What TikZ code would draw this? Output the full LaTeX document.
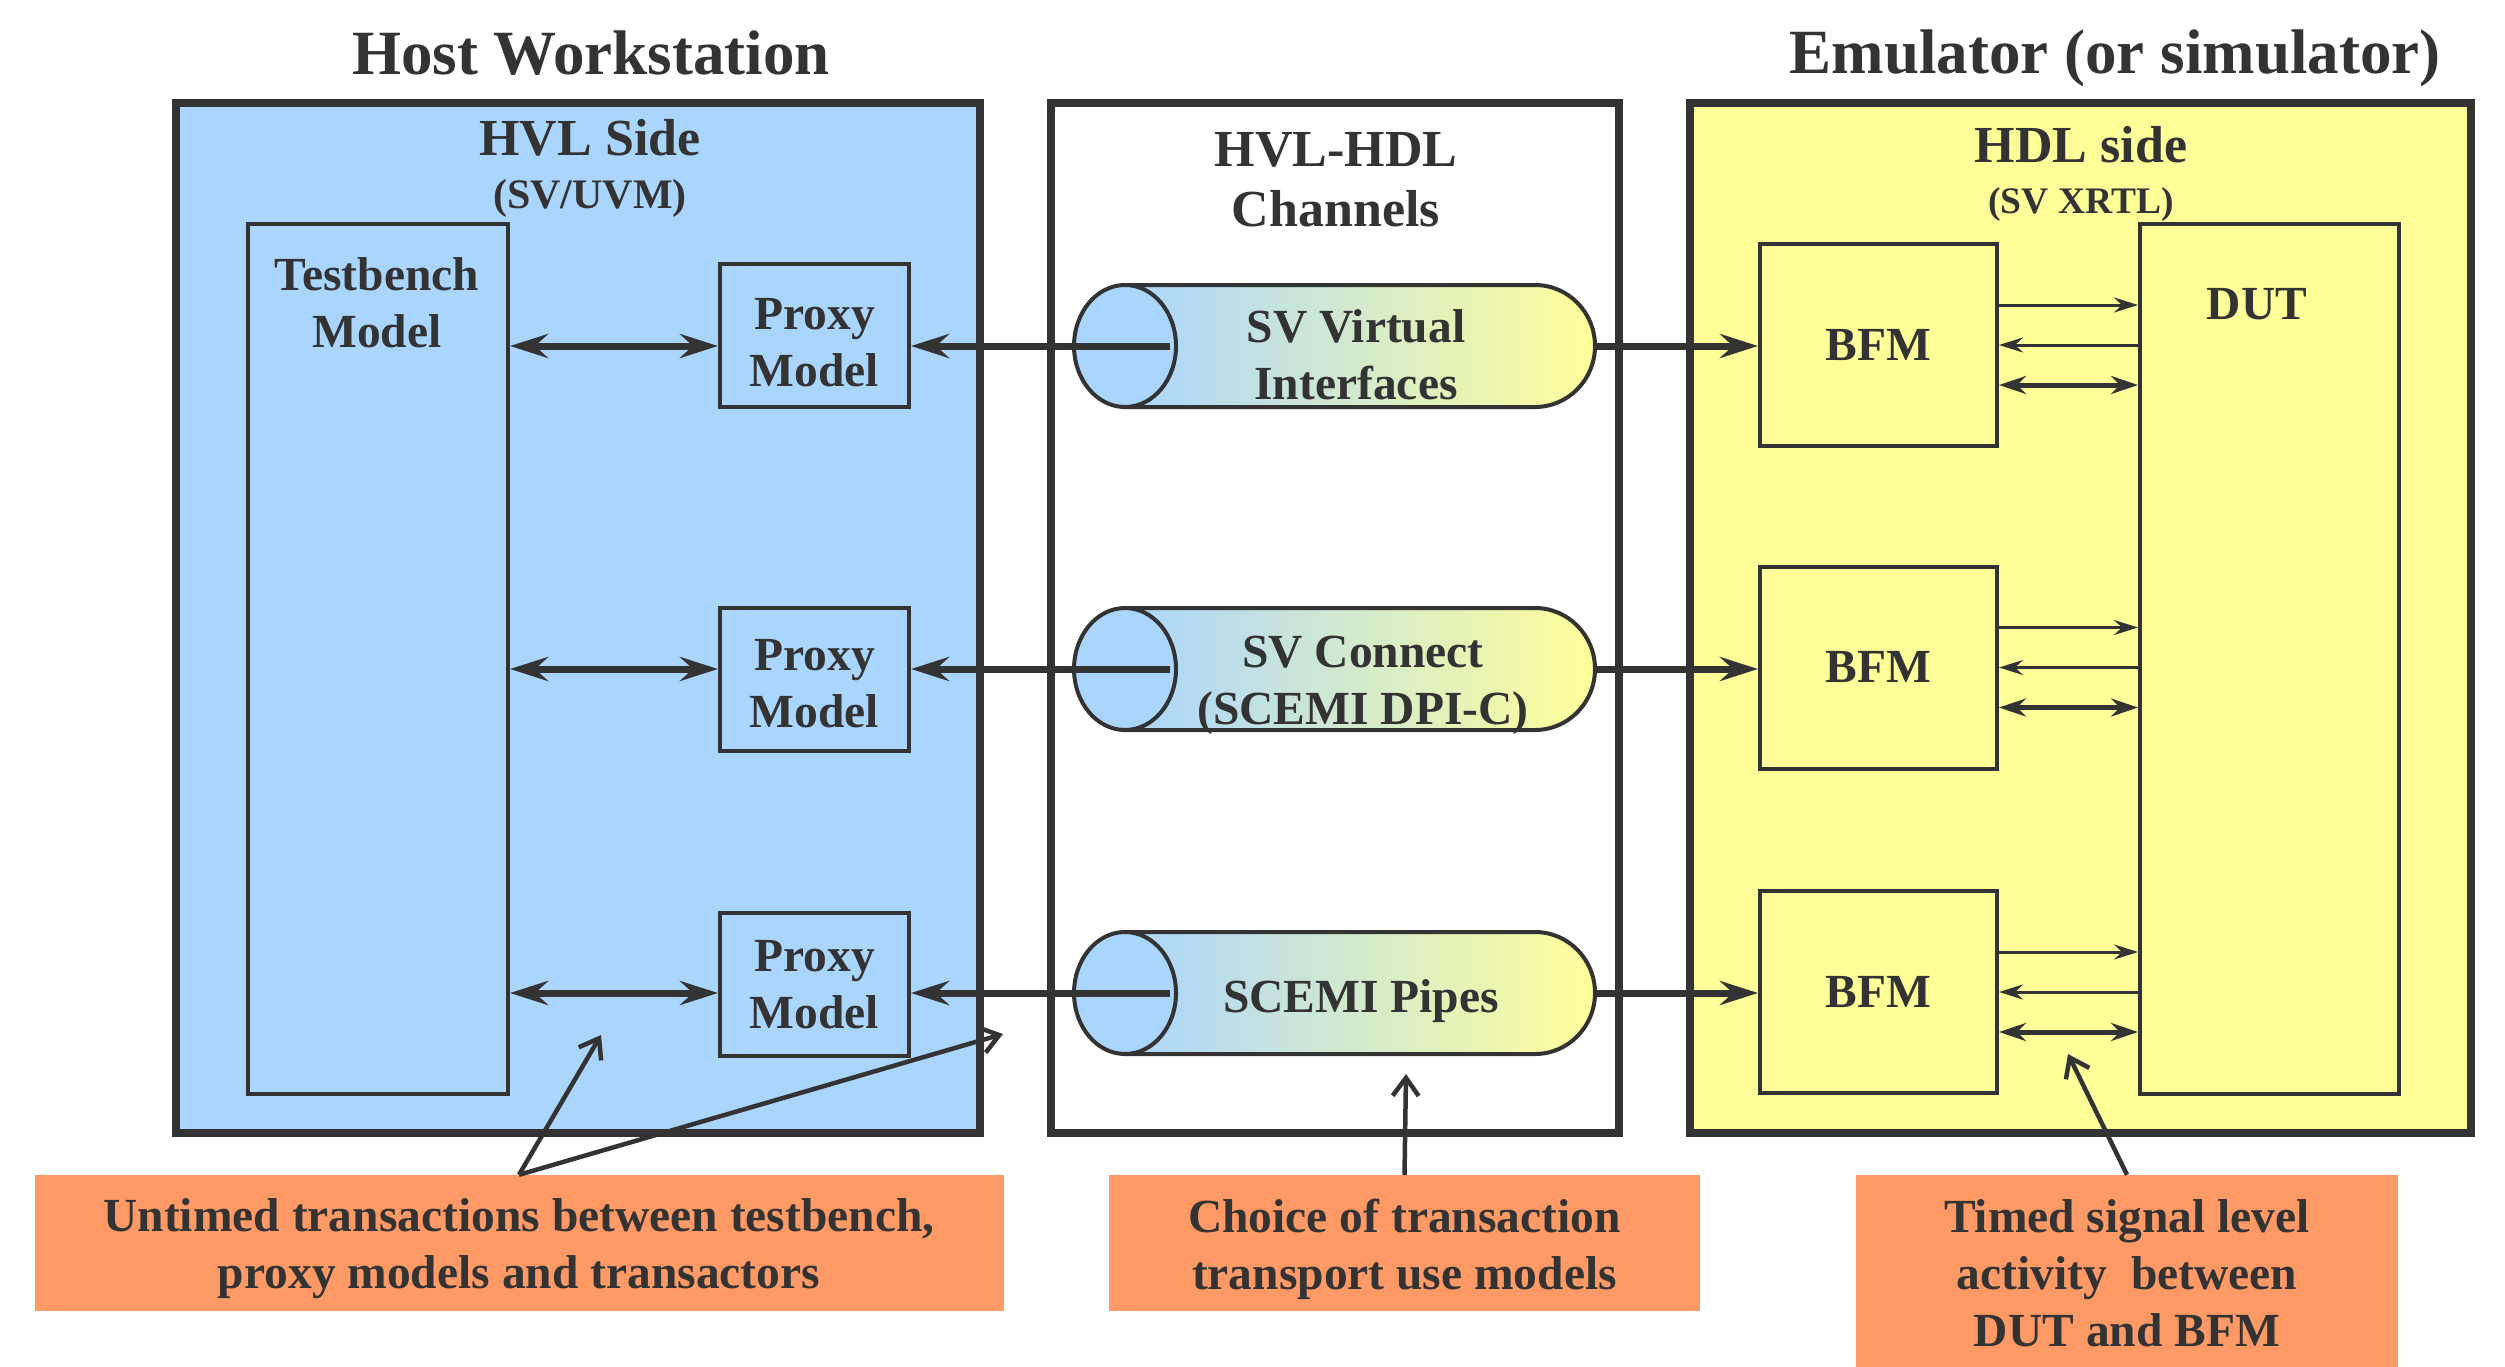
\documentclass[tikz,border=0pt]{standalone}
\usepackage{fontspec}
\setmainfont{Liberation Serif}
\usetikzlibrary{arrows.meta}
\definecolor{ink}{HTML}{333333}
\definecolor{hvlblue}{HTML}{AAD5FF}
\definecolor{hdlyel}{HTML}{FFFF99}
\definecolor{notefill}{HTML}{FF9966}
\tikzset{
  outerbox/.style={draw=ink,line width=7.5pt,inner sep=0pt},
  inbox/.style={draw=ink,line width=4pt,inner sep=0pt},
  txt/.style={text=ink,inner sep=0pt,align=center,font=\fontsize{47.5}{57}\selectfont\bfseries},
  titletxt/.style={txt,font=\fontsize{63}{70}\selectfont\bfseries},
  headtxt/.style={txt,font=\fontsize{52}{60}\selectfont\bfseries},
  subtxt/.style={txt,font=\fontsize{42}{48}\selectfont\bfseries},
  notebox/.style={fill=notefill,draw=none,inner sep=0pt},
  bigtip/.tip={Stealth[length=38pt,width=24pt,inset=13pt]},
  smalltip/.tip={Stealth[length=24pt,width=15pt,inset=8pt]},
  midtip/.tip={Stealth[length=27pt,width=18pt,inset=9pt]},
  link/.style={draw=ink,line width=7pt},
  sig/.style={draw=ink,line width=3pt},
  bus/.style={draw=ink,line width=5pt},
  callout/.style={draw=ink,line width=4.5pt,-{Straight Barb[length=18pt,width=26pt]}},
  cylbody/.style={draw=ink,line width=4pt,left color=hvlblue,right color=hdlyel},
  cylend/.style={draw=ink,line width=4pt,fill=hvlblue}
}
\begin{document}
\begin{tikzpicture}[x=1pt,y=-1pt]
\useasboundingbox (0,0) rectangle (2505,1367);
% containers
\node[outerbox,fill=hvlblue,minimum width=804pt,minimum height=1030pt] (hvl) at (578,618) {};
\node[outerbox,fill=white,minimum width=568pt,minimum height=1030pt] (chan) at (1335,618) {};
\node[outerbox,fill=hdlyel,minimum width=781pt,minimum height=1030pt] (hdl) at (2080.5,618) {};
% titles
\node[titletxt] (t1) at (591,53) {Host Workstation};
\node[titletxt] (t2) at (2115,58) {Emulator (or simulator)};
\node[headtxt] (hvlt) at (590,138) {HVL Side};
\node[subtxt] (hvls) at (590,198) {(SV/UVM)};
\node[headtxt] (chant) at (1336,180) {HVL-HDL\\Channels};
\node[headtxt] (hdlt) at (2081,145) {HDL side};
\node[subtxt,font=\fontsize{37.5}{44}\selectfont\bfseries] (hdls) at (2081,204) {(SV XRTL)};
% HVL side
\node[inbox,minimum width=260pt,minimum height=870pt] (tb) at (378,659) {};
\node[txt] (tbt) at (377,303) {Testbench\\Model};
\node[inbox,minimum width=189pt,minimum height=143pt] (px1) at (814.5,335) {};
\node[inbox,minimum width=189pt,minimum height=143pt] (px2) at (814.5,679) {};
\node[inbox,minimum width=189pt,minimum height=143pt] (px3) at (814.5,984) {};
\node[txt] (px1t) at (814.5,343) {Proxy\\Model};
\node[txt] (px2t) at (814.5,684) {Proxy\\Model};
\node[txt] (px3t) at (814.5,985) {Proxy\\Model};
% HDL side
\node[inbox,txt,minimum width=237pt,minimum height=202pt] (bfm1) at (1878.5,345) {BFM};
\node[inbox,txt,minimum width=237pt,minimum height=202pt] (bfm2) at (1878.5,667.5) {BFM};
\node[inbox,txt,minimum width=237pt,minimum height=202pt] (bfm3) at (1878.5,992) {BFM};
\node[inbox,minimum width=259pt,minimum height=870pt] (dut) at (2269.5,659) {};
\node[txt] (dutt) at (2257,304) {DUT};
% channels (cylinders)
\foreach \cy/\n in {346/1,669/2,993/3}{
  \path[cylbody] (1125,\cy-61) -- (1535,\cy-61)
     arc[start angle=-90,end angle=90,x radius=60,y radius=61] -- (1125,\cy+61) -- cycle;
  \path[cylend] (1125,\cy) ellipse[x radius=51,y radius=61];
  \coordinate (cin\n) at (1170,\cy);
  \coordinate (cout\n) at (1595,\cy);
}
\node[txt] (c1t) at (1356,355) {SV Virtual\\Interfaces};
\node[txt] (c2t) at (1363,685) {SV Connect\\(SCEMI DPI-C)};
\node[txt] (c3t) at (1361,1001) {SCEMI Pipes};
% connectors
\foreach \i in {1,2,3}{
  \draw[link,{bigtip}-{bigtip}] (tb.east |- cin\i) -- (px\i.west |- cin\i);
  \draw[link,-{bigtip}] (cin\i) -- (cin\i -| px\i.east);
  \draw[link,-{bigtip}] (cout\i) -- (cout\i -| bfm\i.west);
  \path ([yshift=40pt]bfm\i.east) coordinate (bu\i)
        (bfm\i.east) coordinate (bm\i)
        ([yshift=-40pt]bfm\i.east) coordinate (bd\i);
  \draw[sig,-{smalltip}] (bu\i) -- (bu\i -| dut.west);
  \draw[sig,-{smalltip}] (bm\i -| dut.west) -- (bm\i);
  \draw[bus,{midtip}-{midtip}] (bd\i) -- (bd\i -| dut.west);
}
% notes
\node[notebox,minimum width=969pt,minimum height=136pt] (noteL) at (519,1243) {};
\node[notebox,minimum width=591pt,minimum height=136pt] (noteM) at (1404.5,1243) {};
\node[notebox,minimum width=542pt,minimum height=192pt] (noteR) at (2127,1271) {};
\node[txt] (noteLt) at (519,1249) {Untimed transactions between testbench,\\proxy models and transactors};
\node[txt] (noteMt) at (1404.5,1249) {Choice of transaction\\transport use models};
\node[txt] (noteRt) at (2127,1273) {Timed signal level\\activity\ \ between\\DUT and BFM};
\coordinate (tipA) at (601,1035);
\coordinate (tipB) at (1003,1034);
\coordinate (tipC) at (1406,1074);
\coordinate (tipD) at (2068,1054);
\draw[callout] (noteL.north) -- (tipA);
\draw[callout] (noteL.north) -- (tipB);
\draw[callout] (noteM.north) -- (tipC);
\draw[callout] (noteR.north) -- (tipD);
\end{tikzpicture}
\end{document}
